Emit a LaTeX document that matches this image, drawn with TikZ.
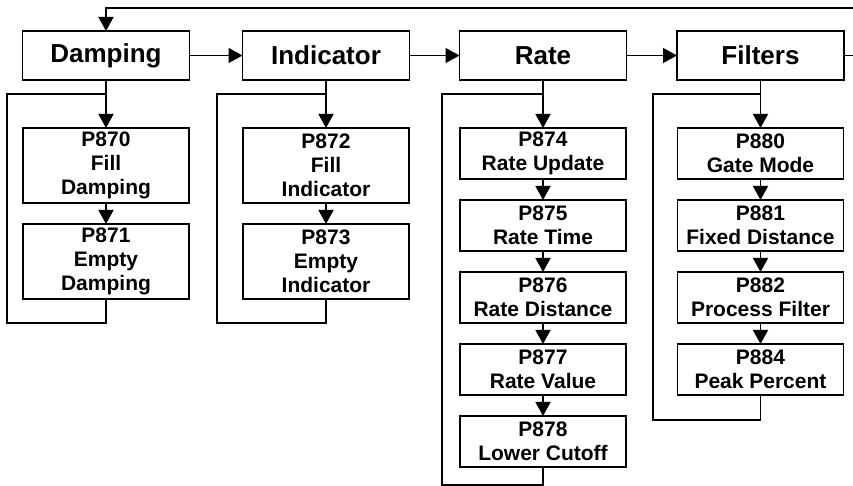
\documentclass[tikz,border=0pt]{standalone}
\usepackage{fontspec}
\setmainfont{Liberation Sans}
\usetikzlibrary{arrows.meta}

\tikzset{
    stage/.style={draw, line width=0.7pt, inner sep=0pt, outer sep=0pt,
        minimum width=83.5pt, minimum height=24.5pt,
        font=\fontsize{13}{15}\selectfont\bfseries},
    param/.style={draw, line width=0.7pt, inner sep=0pt, outer sep=0pt,
        minimum width=83pt, minimum height=25.5pt, align=center,
        font=\fontsize{10.5}{12}\selectfont\bfseries},
    param3/.style={param, minimum height=37.5pt},
    link/.style={line width=0.7pt}
}

\begin{document}
\begin{tikzpicture}[x=0.5pt, y=-0.5pt, >={Triangle[length=7pt,width=7.5pt]}]

    \useasboundingbox (0,0) rectangle (853,486);

    % ---------- 顶部四个功能块 ----------
    \node[stage] (dmp)  at (106,  55.5) {Damping};
    \node[stage] (ind)  at (326,  55.5) {Indicator};
    \node[stage] (rate) at (543,  55.5) {Rate};
    \node[stage] (filt) at (760.5,55.5) {Filters};

    \draw[link, ->] (dmp)  -- (ind);
    \draw[link, ->] (ind)  -- (rate);
    \draw[link, ->] (rate) -- (filt);

    % 右端出入（画面外相连）
    \coordinate (outR) at (853, 55.5);
    \coordinate (inR)  at (853, 8);
    \draw[link] (filt) -- (outR);
    \draw[link, ->] (inR) -| (dmp.north);

    % ---------- Damping 列 ----------
    \node[param3] (p870) at (106, 165.5) {P870\\Fill\\Damping};
    \node[param3] (p871) at (106, 261.5) {P871\\Empty\\Damping};

    % ---------- Indicator 列 ----------
    \node[param3] (p872) at (326, 165.5) {P872\\Fill\\Indicator};
    \node[param3] (p873) at (326, 261.5) {P873\\Empty\\Indicator};

    % ---------- Rate 列 ----------
    \foreach \n/\y/\lbl in {
        874/153.5/{Rate Update},
        875/225.5/{Rate Time},
        876/297.5/{Rate Distance},
        877/369.5/{Rate Value},
        878/441.5/{Lower Cutoff}
    }{
        \node[param] (p\n) at (543,\y) {P\n\\\lbl};
    }

    % ---------- Filters 列 ----------
    \foreach \n/\y/\lbl in {
        880/153.5/{Gate Mode},
        881/225.5/{Fixed Distance},
        882/297.5/{Process Filter},
        884/369.5/{Peak Percent}
    }{
        \node[param] (p\n) at (760.5,\y) {P\n\\\lbl};
    }

    % 各列向下箭头
    \foreach \a/\b in {dmp/p870, p870/p871, ind/p872, p872/p873,
                       rate/p874, p874/p875, p875/p876, p876/p877, p877/p878,
                       filt/p880, p880/p881, p881/p882, p882/p884}{
        \draw[link, ->] (\a) -- (\b);
    }

    % ---------- 每列回路 ----------
    \coordinate (dmpB) at (7, 323);    \coordinate (dmpJ) at (106, 94);
    \coordinate (indB) at (217, 323);  \coordinate (indJ) at (326, 94);
    \coordinate (rateB) at (442, 485); \coordinate (rateJ) at (543, 94);
    \coordinate (filtB) at (653, 420); \coordinate (filtJ) at (760.5, 94);

    \draw[link] (p871.south) |- (dmpB) |- (dmpJ);
    \draw[link] (p873.south) |- (indB) |- (indJ);
    \draw[link] (p878.south) |- (rateB) |- (rateJ);
    \draw[link] (p884.south) |- (filtB) |- (filtJ);

\end{tikzpicture}
\end{document}
